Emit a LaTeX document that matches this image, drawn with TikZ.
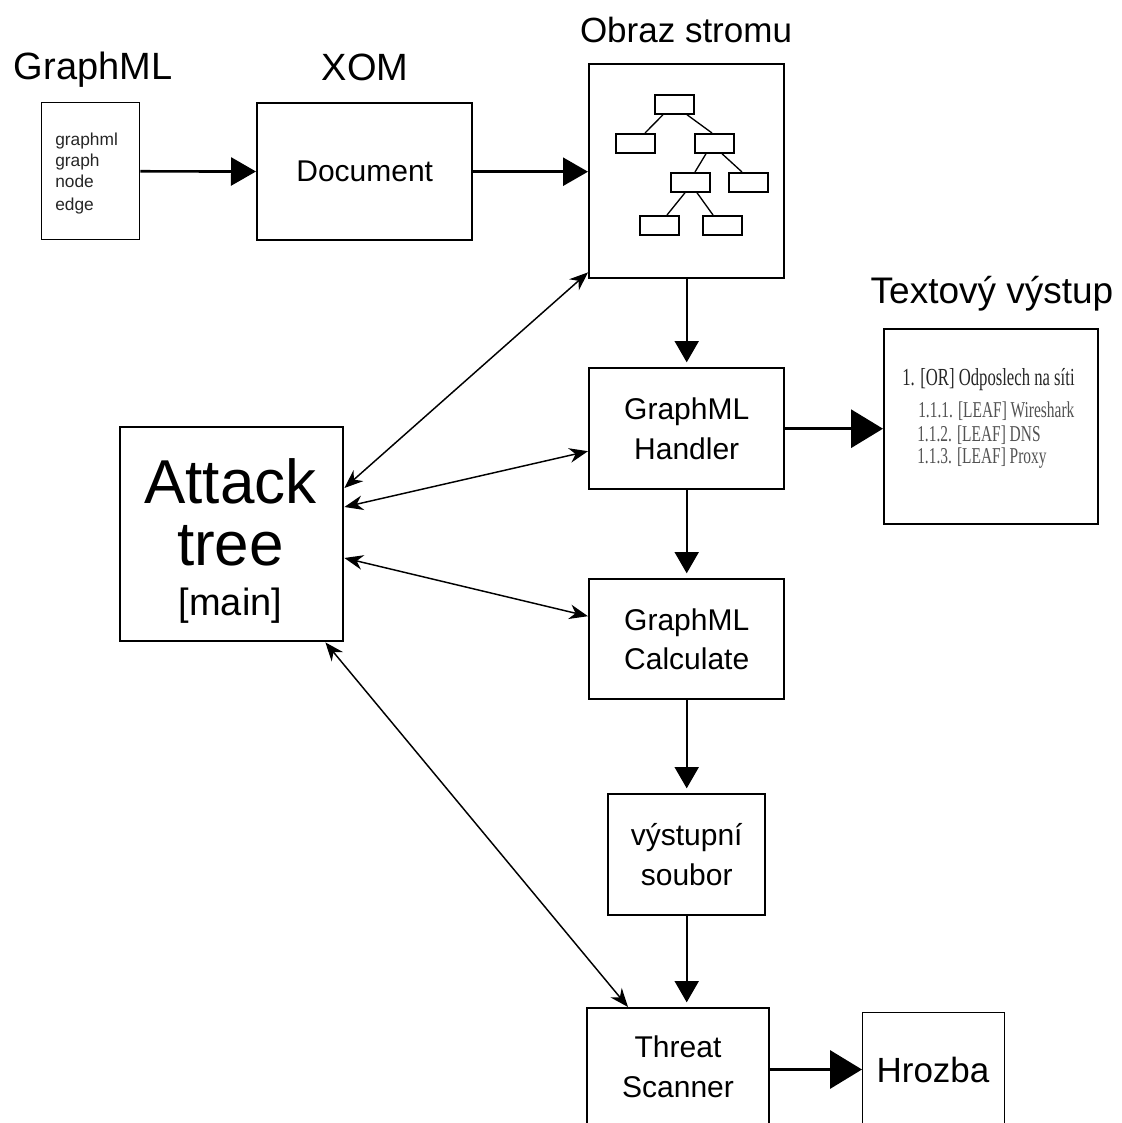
\documentclass[tikz,border=0pt]{standalone}
\usepackage{fontspec}
\setmainfont{Liberation Sans}
\newfontfamily\listfont[FakeStretch=0.68]{Liberation Serif}
\usetikzlibrary{arrows.meta,calc}

\begin{document}
\begin{tikzpicture}[x=0.75pt,y=-0.75pt,
  box/.style={draw, line width=1.8pt, inner sep=0pt, anchor=north west, align=center,
    font=\fontsize{22.5}{29.5}\selectfont},
  thinbox/.style={draw, line width=1.1pt, inner sep=0pt, anchor=north west},
  treebox/.style={draw, line width=1.3pt, inner sep=0pt, anchor=north west,
    minimum width=29.25pt, minimum height=14.25pt},
  txt/.style={inner sep=0pt, anchor=base},
  heading/.style={txt, font=\fontsize{28.5}{34}\selectfont},
  boxlabel/.style={txt, font=\fontsize{22.5}{29.5}\selectfont},
  tagline/.style={inner sep=0pt, anchor=base west, text=black!85, font=\fontsize{13}{16}\selectfont},
  outline/.style={inner sep=0pt, anchor=base west, text=black!85,
    font=\listfont\fontsize{18.4}{22}\selectfont},
  subline/.style={outline, text=black!68, font=\listfont\fontsize{17}{20}\selectfont},
  flow/.style={line width=2pt, -{Triangle[length=18.75pt,width=21pt]}},
  bigflow/.style={line width=2.5pt, -{Triangle[length=24pt,width=28.5pt]}},
  down/.style={line width=1.6pt, -{Triangle[length=16pt,width=18pt]}, shorten >=3.5pt},
  link/.style={line width=1.1pt,
    {Stealth[length=14pt,width=11pt,inset=4.5pt]}-{Stealth[length=14pt,width=11pt,inset=4.5pt]}},
  treeedge/.style={line width=1pt}
]
\useasboundingbox (0,0) rectangle (1121,1123);
\clip (0,0) rectangle (1121,1123);

% headings
\node[heading] (hgml) at (93,80) {GraphML};
\node[heading] (hxom) at (365,81) {XOM};
\node[heading, font=\fontsize{26.25}{32}\selectfont] (hobr) at (686,43) {Obraz stromu};
\node[heading, font=\fontsize{27.75}{33}\selectfont] (htxt) at (992,303) {Textový výstup};

% input file
\node[thinbox, minimum width=73.5pt, minimum height=102.75pt] (gml) at (41,102) {};
\node[tagline] (g1) at (55,146) {graphml};
\node[tagline] (g2) at (55,167) {graph};
\node[tagline] (g3) at (55,188) {node};
\node[tagline] (g4) at (55,210) {edge};

% XOM document
\node[box, minimum width=161.25pt, minimum height=102.75pt] (doc) at (256,102) {Document};

% tree image
\node[box, minimum width=146.25pt, minimum height=160.5pt] (ob) at (588,63) {};
\node[treebox] (t0) at (654,94) {};
\node[treebox] (t1) at (615,133) {};
\node[treebox] (t2) at (694,133) {};
\node[treebox] (t3) at (670,172) {};
\node[treebox] (t4) at (728,172) {};
\node[treebox] (t5) at (639,215) {};
\node[treebox] (t6) at (702,215) {};
\draw[treeedge] ($(t0.south west)+(9,0)$) -- ($(t1.north west)+(30,0)$);
\draw[treeedge] ($(t0.south west)+(33,0)$) -- ($(t2.north west)+(18,0)$);
\draw[treeedge] ($(t2.south west)+(12,0)$) -- ($(t3.north west)+(25,0)$);
\draw[treeedge] ($(t2.south west)+(28,0)$) -- ($(t4.north west)+(14,0)$);
\draw[treeedge] ($(t3.south west)+(15,0)$) -- ($(t5.north west)+(28,0)$);
\draw[treeedge] ($(t3.south west)+(27,0)$) -- ($(t6.north west)+(11,0)$);

% processing chain
\node[box, minimum width=146.25pt, minimum height=90.75pt] (hand) at (588,367) {GraphML\\Handler};
\node[box, minimum width=146.25pt, minimum height=90pt] (calc) at (588,578) {GraphML\\Calculate};
\node[box, minimum width=117.75pt, minimum height=90.75pt] (vys) at (607,793) {výstupní\\soubor};
\node[box, minimum width=136.5pt, minimum height=110pt] (ts) at (586,1007) {};
\node[boxlabel] (ts1) at (678,1057) {Threat};
\node[boxlabel] (ts2) at (678,1097) {Scanner};
\node[thinbox, minimum width=106.5pt, minimum height=106pt] (hz) at (862,1012) {};
\node[txt, font=\fontsize{26.25}{32}\selectfont] (hzl) at (933,1082) {Hrozba};

% text output
\node[box, minimum width=160.5pt, minimum height=146.25pt] (tout) at (883,328) {};
\node[outline] (o1) at (902,385) {1. [OR] Odposlech na síti};
\node[subline] (o2) at (918,417) {1.1.1. [LEAF] Wireshark};
\node[subline] (o3) at (917,441) {1.1.2. [LEAF] DNS};
\node[subline] (o4) at (917,463) {1.1.3. [LEAF] Proxy};

% main program
\node[box, minimum width=167.25pt, minimum height=160.5pt] (at) at (119,426) {};
\node[txt, font=\fontsize{46.5}{52}\selectfont] (at1) at (230.5,503) {Attack};
\node[txt, font=\fontsize{46.5}{52}\selectfont] (at2) at (230.5,565) {tree};
\node[txt, font=\fontsize{28.5}{34}\selectfont] (at3) at (230.5,615) {[main]};

% data flow
\draw[flow] (gml) -- (doc);
\draw[flow] (doc.east) -- (doc.east -| ob.west);
\draw[down] (ob) -- (hand);
\draw[bigflow] (hand.east) -- (hand.east -| tout.west);
\draw[down] (hand) -- (calc);
\draw[down] (calc) -- (vys);
\draw[down] (vys.south) -- (vys.south |- ts.north);
\draw[bigflow] (ts.east |- hzl.center) -- (hz.west |- hzl.center);

% links to the main program
\draw[link] ($(at.north east)+(0,62)$) -- ($(ob.south west)+(0,-7)$);
\draw[link] ($(at.north east)+(0,81)$) -- ($(hand.west)+(0,22.5)$);
\draw[link] ($(at.north east)+(0,132)$) -- ($(calc.west)+(0,-23)$);
\draw[link] ($(at.south east)+(-19,0)$) -- ($(ts.north west)+(42,0)$);
\end{tikzpicture}
\end{document}
